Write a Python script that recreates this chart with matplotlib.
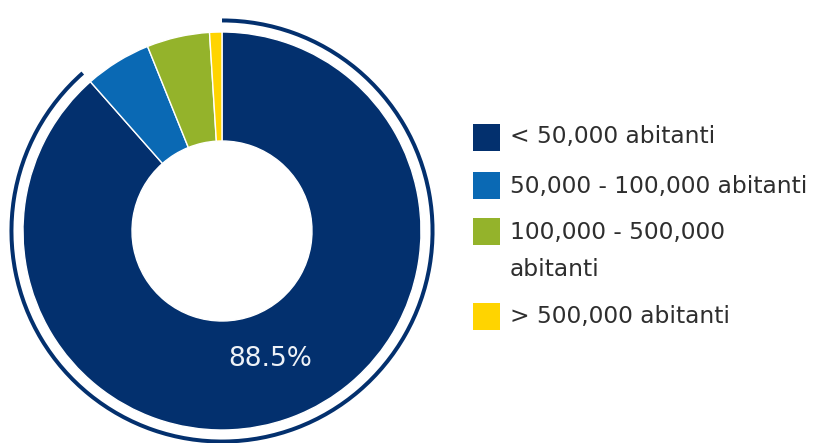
import matplotlib
matplotlib.use("Agg")
import matplotlib.pyplot as plt
from matplotlib.patches import Wedge, Rectangle

# ---- data ----
categories = ["< 50,000 abitanti", "50,000 - 100,000 abitanti",
              "100,000 - 500,000\nabitanti", "> 500,000 abitanti"]
shares = [88.5, 5.4, 5.1, 1.0]
colors = ["#03306e", "#0a69b4", "#94b32b", "#ffd400"]

W, H = 819, 443
fig = plt.figure(figsize=(W / 100, H / 100), dpi=100)
fig.patch.set_facecolor("white")

# donut geometry in pixels
cx, cy = 222, H - 231
R = 199.0
half = 1.15 * R
ax = fig.add_axes([(cx - half) / W, (cy - half) / H, 2 * half / W, 2 * half / H])

wedges, _, autotexts = ax.pie(
    shares, colors=colors, startangle=90, counterclock=False, radius=1.0,
    wedgeprops=dict(width=109 / R, edgecolor="white", linewidth=1.0),
    autopct=lambda p: f"{p:.1f}%" if p > 50 else "", pctdistance=0.69,
    textprops=dict(color="#eef2f7", fontsize=19, family="DejaVu Sans"),
)

# highlight arc around the largest slice
frac = shares[0] / sum(shares)
ring = Wedge((0, 0), 1.068, 90 - 360 * frac, 90, width=0.02,
             facecolor=colors[0], edgecolor="none")
ax.add_patch(ring)

ax.set_xlim(-1.15, 1.15)
ax.set_ylim(-1.15, 1.15)
ax.set_aspect("auto")
ax.axis("off")

# ---- legend (manual) ----
sq = 27
x_sq = 473
x_txt = 510
row_centers = [137, 186, 231, 316]
for lab, col, yc in zip(categories, colors, row_centers):
    fig.patches.append(Rectangle((x_sq / W, (H - yc - sq / 2) / H), sq / W, sq / H,
                                 transform=fig.transFigure, facecolor=col,
                                 edgecolor="none"))
    if "\n" in lab:
        fig.text(x_txt / W, (H - yc + 10) / H, lab, ha="left", va="top",
                 fontsize=16.8, family="DejaVu Sans", color="#2e2e2e",
                 linespacing=1.75)
    else:
        fig.text(x_txt / W, (H - yc) / H, lab, ha="left", va="center",
                 fontsize=16.8, family="DejaVu Sans", color="#2e2e2e")

fig.savefig("out.png", dpi=100, facecolor="white")
